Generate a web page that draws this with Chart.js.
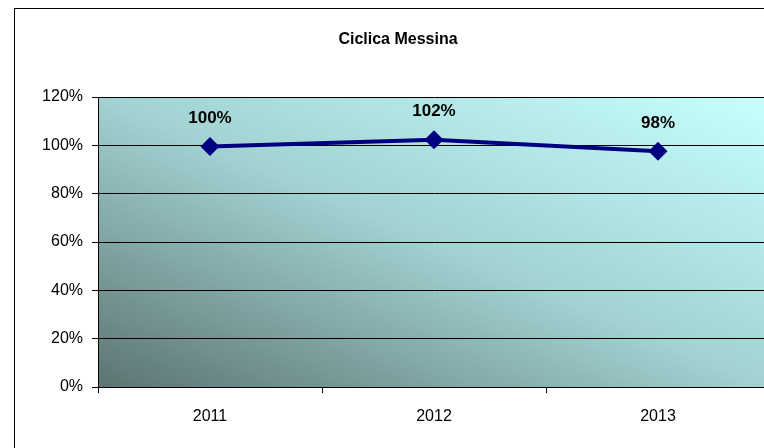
<!DOCTYPE html>
<html>
<head>
<meta charset="utf-8">
<script src="https://cdn.jsdelivr.net/npm/chart.js@4"></script>
<style>
  html, body { margin: 0; padding: 0; background: #fff; overflow: hidden; }
  #wrap { position: absolute; left: 0; top: 0; width: 800px; height: 448px; }
</style>
</head>
<body>
<div id="wrap"><canvas id="lineChart" width="800" height="448"></canvas></div>
<script>
// Ciclica Messina: andamento percentuale per anno
const years = ["2011", "2012", "2013"];
const ciclica = [99.5, 102.3, 97.6];
const yTicks = [0, 20, 40, 60, 80, 100, 120];

// sfondo sfumato dell'area del grafico + cornice esterna + titolo
const decor = {
  id: "decor",
  beforeDraw(chart) {
    const { ctx, chartArea: a } = chart;
    ctx.save();
    ctx.fillStyle = "#fff";
    ctx.fillRect(0, 0, chart.width, chart.height);
    // sfumatura diagonale: da basso-sinistra scuro ad alto-destra chiaro
    const w = a.right - a.left, h = a.bottom - a.top;
    const cx = a.left + w / 2, cy = a.top + h / 2;
    const k = (w * h) / (w * w + h * h);
    const g = ctx.createLinearGradient(cx - k * h, cy + k * w, cx + k * h, cy - k * w);
    g.addColorStop(0, "#5c7472");
    g.addColorStop(0.5, "#a2d2d2");
    g.addColorStop(1, "#c8ffff");
    ctx.fillStyle = g;
    ctx.fillRect(a.left, a.top, w, h);
    ctx.strokeStyle = "#000";
    ctx.lineWidth = 1;
    ctx.strokeRect(14.5, 8.5, 790, 460);
    ctx.fillStyle = "#000";
    ctx.font = "bold 16px 'Liberation Sans', Arial, sans-serif";
    ctx.textAlign = "center";
    ctx.textBaseline = "middle";
    ctx.fillText("Ciclica Messina", 398, 40);
    ctx.restore();
  },
  afterDatasetsDraw(chart) {
    const { ctx } = chart;
    const meta = chart.getDatasetMeta(0);
    ctx.save();
    ctx.fillStyle = "#000";
    ctx.font = "bold 17px 'Liberation Sans', Arial, sans-serif";
    ctx.textAlign = "center";
    ctx.textBaseline = "middle";
    meta.data.forEach((pt, i) => {
      ctx.fillText(Math.round(ciclica[i]) + "%", pt.x, pt.y - 28);
    });
    ctx.restore();
  }
};

const ctxLine = document.getElementById("lineChart").getContext("2d");
const lineChart = new Chart(ctxLine, {
  type: "line",
  data: {
    labels: years,
    datasets: [{
      data: ciclica,
      borderColor: "#000080",
      backgroundColor: "#000080",
      borderWidth: 4,
      pointStyle: "rectRot",
      pointRadius: 9.5,
      pointBorderWidth: 0,
      tension: 0
    }]
  },
  options: {
    responsive: false,
    animation: false,
    layout: { padding: { left: 14, top: 97, right: 30, bottom: 0 } },
    plugins: {
      legend: { display: false },
      title: { display: false },
      tooltip: { enabled: false }
    },
    scales: {
      x: {
        offset: true,
        grid: {
          offset: true,
          drawOnChartArea: false,
          drawTicks: true,
          tickLength: 6,
          color: "#000"
        },
        border: { color: "#000", width: 1 },
        ticks: {
          color: "#000",
          padding: 14,
          font: { family: "'Liberation Sans', Arial, sans-serif", size: 16 }
        },
        afterFit(scale) { scale.height = 61; }
      },
      y: {
        min: 0,
        max: 120,
        afterBuildTicks(scale) { scale.ticks = yTicks.map(v => ({ value: v })); },
        grid: {
          color: "#000",
          lineWidth: 1,
          tickLength: 6,
          drawTicks: true
        },
        border: { color: "#000", width: 1 },
        ticks: {
          color: "#000",
          padding: 9,
          font: { family: "'Liberation Sans', Arial, sans-serif", size: 16 },
          callback: v => v + "%"
        },
        afterFit(scale) { scale.width = 84; }
      }
    }
  },
  plugins: [decor]
});
</script>
</body>
</html>
